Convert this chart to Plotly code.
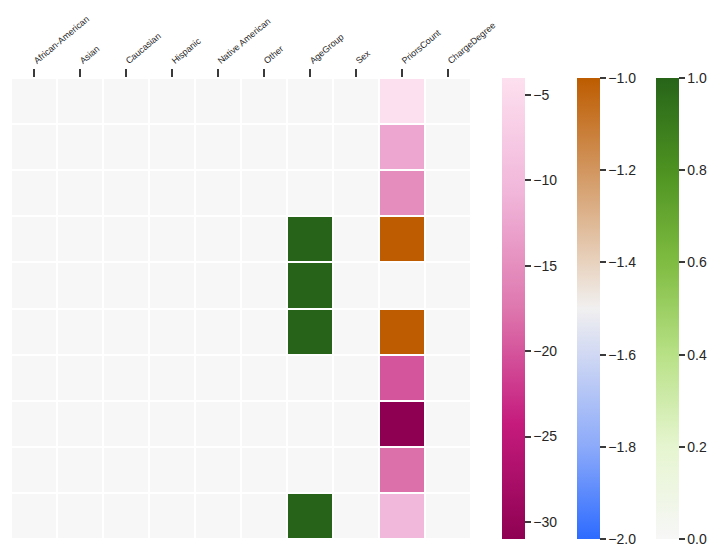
import numpy as np
import pandas as pd
import plotly.graph_objects as go

# column labels shown along the top
columns = ["African-American", "Asian", "Caucasian", "Hispanic", "Native American",
           "Other", "AgeGroup", "Sex", "PriorsCount", "ChargeDegree"]

# values per column (10 rows, top to bottom)
african_american = [0, 0, 0, 0, 0, 0, 0, 0, 0, 0]
asian = [0, 0, 0, 0, 0, 0, 0, 0, 0, 0]
caucasian = [0, 0, 0, 0, 0, 0, 0, 0, 0, 0]
hispanic = [0, 0, 0, 0, 0, 0, 0, 0, 0, 0]
native_american = [0, 0, 0, 0, 0, 0, 0, 0, 0, 0]
other = [0, 0, 0, 0, 0, 0, 0, 0, 0, 0]
age_group = [0, 0, 0, 1, 1, 1, 0, 0, 0, 1]
sex = [0, 0, 0, 0, 0, 0, 0, 0, 0, 0]
priors_count = [-4, -12.5, -15, -1, 0, -1, -20, -31, -18, -10.5]
charge_degree = [0, 0, 0, 0, 0, 0, 0, 0, 0, 0]

df = pd.DataFrame(
    dict(zip(columns, [african_american, asian, caucasian, hispanic, native_american,
                       other, age_group, sex, priors_count, charge_degree]))
)
z = df.to_numpy(dtype=float)
rows = list(range(len(df)))

# split the matrix into three masked layers, one per colour map
z_pos = np.where(z >= 0, z, np.nan)
z_mid = np.where((z < 0) & (z >= -2), z, np.nan)
z_neg = np.where(z < -2, z, np.nan)

pink_scale = [[0, "#8e0152"], [0.25, "#c51b7d"], [0.5, "#de77ae"],
              [0.75, "#f1b6da"], [1, "#fde0ef"]]
orange_scale = [[0, "rgb(45,107,255)"], [0.2, "rgb(140,170,250)"],
                [0.4, "rgb(208,216,243)"], [0.5, "rgb(241,240,240)"],
                [0.6, "rgb(232,210,190)"], [0.8, "rgb(210,150,95)"],
                [1, "rgb(189,92,0)"]]
green_scale = [[0, "#f7f7f7"], [0.2, "#e6f5d0"], [0.4, "#b8e186"],
               [0.6, "#7fbc41"], [0.8, "#4d9221"], [1, "#276419"]]

txt = "#262626"


def cbar(x, dtick, fmt):
    return dict(
        x=x, xanchor="left", xpad=0, y=0.5, yanchor="middle", ypad=0,
        len=1, thickness=23, outlinewidth=0,
        ticks="outside", ticklen=6, tickwidth=2, tickcolor="#3a3a3a",
        dtick=dtick, tickformat=fmt,
        tickfont=dict(size=14, color=txt, family="Liberation Sans, Arial"),
    )


fig = go.Figure()

fig.add_trace(go.Heatmap(
    z=z_neg, x=columns, y=rows, colorscale=pink_scale, zmin=-31, zmax=-4,
    xgap=2, ygap=2, colorbar=cbar(1.067, 5, "d"),
))
fig.add_trace(go.Heatmap(
    z=z_mid, x=columns, y=rows, colorscale=orange_scale, zmin=-2, zmax=-1,
    xgap=2, ygap=2, colorbar=cbar(1.230, 0.2, ".1f"),
))
fig.add_trace(go.Heatmap(
    z=z_pos, x=columns, y=rows, colorscale=green_scale, zmin=0, zmax=1,
    xgap=2, ygap=2, colorbar=cbar(1.402, 0.2, ".1f"),
))

fig.update_xaxes(
    side="top", tickangle=-40, showgrid=False, zeroline=False,
    ticks="outside", ticklen=8, tickwidth=2, tickcolor="#3a3a3a",
    tickfont=dict(size=9, color=txt, family="Liberation Sans, Arial"),
)
fig.update_yaxes(autorange="reversed", showticklabels=False, showgrid=False,
                 zeroline=False)

# the page body adds an 8px offset, so margins are trimmed to compensate
fig.update_layout(
    width=723, height=558,
    margin=dict(l=3, r=260, t=70, b=27),
    plot_bgcolor="white", paper_bgcolor="white",
)

fig.write_html("out.html")
